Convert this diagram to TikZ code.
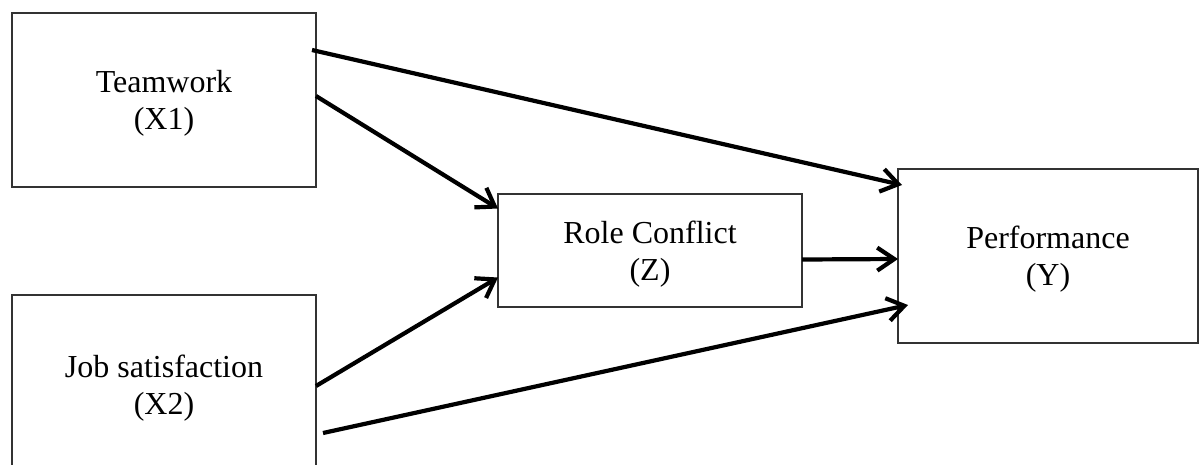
\documentclass[tikz,border=0pt]{standalone}
\usepackage{fontspec}
\setmainfont{Liberation Serif}
\usetikzlibrary{positioning,arrows.meta}

\begin{document}
\begin{tikzpicture}[
  x=1pt, y=-1pt,
  varbox/.style={
    rectangle,
    draw=black!80,
    line width=1.3pt,
    inner sep=0pt,
    outer sep=0pt,
    align=center,
    text depth=0pt,
    font=\fontsize{32}{37}\selectfont
  },
  path/.style={
    line width=4.2pt,
    -{Straight Barb[length=17pt,width=23pt,line width=4.2pt]}
  }]
  \clip (0,0) rectangle (1199,464);
  % variables
  \node[varbox, minimum width=304pt, minimum height=174pt] (teamwork) at (164,100) {Teamwork\\(X1)};
  \node[varbox, minimum width=304pt, minimum height=180pt] (jobsat) at (164,385) {Job satisfaction\\(X2)};
  \node[varbox, minimum width=304pt, minimum height=113pt] (conflict) at (650,250.5) {Role Conflict\\(Z)};
  \node[varbox, minimum width=300pt, minimum height=174pt] (perf) at (1048,256) {Performance\\(Y)};
  % paths
  \draw[path] ([xshift=-4pt,yshift=50pt]teamwork.east) -- ([xshift=4pt,yshift=71pt]perf.west);
  \draw[path] ([yshift=4pt]teamwork.east) -- ([yshift=42pt]conflict.west);
  \draw[path] ([yshift=-1pt]jobsat.east) -- ([yshift=-27pt]conflict.west);
  \draw[path] ([yshift=-9pt]conflict.east) -- ([yshift=-3pt]perf.west);
  \draw[path] ([xshift=7pt,yshift=-48pt]jobsat.east) -- ([xshift=10pt,yshift=-49pt]perf.west);
\end{tikzpicture}
\end{document}
